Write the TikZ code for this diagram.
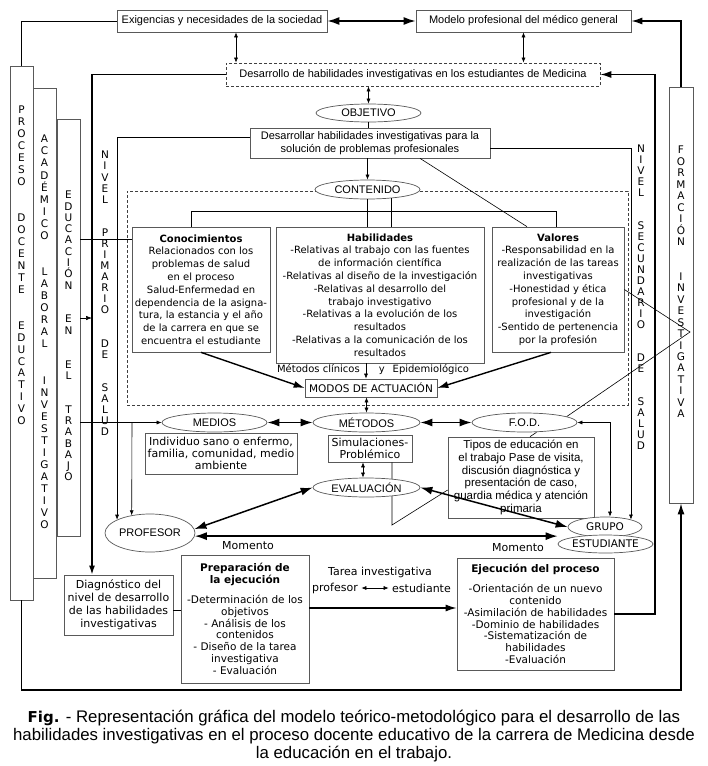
\documentclass[tikz,border=0pt]{standalone}
\usepackage{fontspec}
\setmainfont{DejaVu Sans}
\newfontfamily\narrowfont{Liberation Sans}
\usetikzlibrary{arrows.meta,shapes.geometric}

\tikzset{
   caja/.style={draw=black!65, line width=0.7pt, fill=white, align=center, inner sep=1pt, font=\fontsize{10}{12.8}\selectfont},
   cajag/.style={caja, font=\fontsize{11}{12.3}\selectfont},
   cajan/.style={caja, font=\narrowfont\fontsize{11}{13}\selectfont},
   elipse/.style={ellipse, draw=black!65, line width=0.7pt, fill=white, inner sep=0pt, font=\narrowfont\fontsize{11}{13}\selectfont},
   letras/.style={align=center, anchor=north, inner sep=0pt},
   punteada/.style={draw=black!75, line width=0.7pt, dash pattern=on 3pt off 2pt},
   linea/.style={line width=0.6pt},
   fina/.style={line width=0.6pt, -{Latex[length=5pt,width=4pt]}},
   dfina/.style={line width=0.6pt, {Latex[length=5pt,width=4pt]}-{Latex[length=5pt,width=4pt]}},
   gruesa/.style={line width=1.5pt, {Latex[length=12pt,width=8pt]}-{Latex[length=12pt,width=8pt]}},
   flechag/.style={line width=1.4pt, -{Latex[length=11pt,width=7pt]}},
}

\begin{document}
\begin{tikzpicture}[x=1pt,y=-1pt]

   \fill[white] (0,0) rectangle (708,766);
   \useasboundingbox (0,0) rectangle (708,766);

   \node[cajan, minimum width=210pt, minimum height=22pt] (Exigencias) at (222,21) {Exigencias y necesidades de la sociedad};
   \node[cajan, minimum width=215pt, minimum height=22pt] (Modelo) at (523.5,21) {Modelo profesional del médico general};
   \node[cajan, punteada, minimum width=374pt, minimum height=23pt] (Desarrollo) at (413,74.5) {Desarrollo de habilidades investigativas en los estudiantes de Medicina};
   \node[elipse, minimum width=105pt, minimum height=18pt] (Objetivo) at (368.5,113) {OBJETIVO};
   \node[cajan, minimum width=240pt, minimum height=30pt] (Desarrollar) at (370,143) {Desarrollar habilidades investigativas para la\\solución de problemas profesionales};

   \node[punteada, minimum width=501pt, minimum height=214pt] (Campo) at (377.5,298) {};
   \node[elipse, minimum width=105pt, minimum height=19pt] (Contenido) at (367.5,189.5) {CONTENIDO};

   \node[caja, minimum width=138pt, minimum height=125pt] (Conocimientos) at (201,289.5) {\textbf{Conocimientos}\\Relacionados con los\\problemas de salud\\en el proceso\\Salud-Enfermedad en\\dependencia de la asigna-\\tura, la estancia y el año\\de la carrera en que se\\encuentra el estudiante};
   \node[caja, minimum width=208pt, minimum height=136pt] (Habilidades) at (380,295) {\textbf{Habilidades}\\-Relativas al trabajo con las fuentes\\de información científica\\-Relativas al diseño de la investigación\\-Relativas al desarrollo del\\trabajo investigativo\\-Relativas a la evolución de los\\resultados\\-Relativas a la comunicación de los\\resultados};
   \node[caja, minimum width=132pt, minimum height=125pt] (Valores) at (558,289.5) {\textbf{Valores}\\-Responsabilidad en la\\realización de las tareas\\investigativas\\-Honestidad y ética\\profesional y de la\\investigación\\-Sentido de pertenencia\\por la profesión};

   \node[font=\fontsize{10}{12}\selectfont, inner sep=0pt] (MetClin) at (373,370) {Métodos clínicos\hspace{19pt}y\hspace{8pt}Epidemiológico};
   \node[caja, font=\fontsize{10.5}{12}\selectfont, minimum width=132pt, minimum height=18pt] (Modos) at (371,388) {MODOS DE ACTUACIÓN};

   \node[elipse, minimum width=105pt, minimum height=19pt] (Medios) at (214.5,422.5) {MEDIOS};
   \node[elipse, minimum width=107pt, minimum height=19pt] (Metodos) at (366.5,422.5) {MÉTODOS};
   \node[elipse, minimum width=105pt, minimum height=19pt] (FOD) at (524.5,422.5) {F.O.D.};

   \node[cajag, minimum width=152pt, minimum height=41pt] (MediosTxt) at (221,453.5) {Individuo sano o enfermo,\\familia, comunidad, medio\\ambiente};
   \node[cajag, minimum width=84pt, minimum height=27pt] (Simulaciones) at (370,448.5) {Simulaciones-\\Problémico};
   \node[cajan, font=\narrowfont\fontsize{11.5}{12.9}\selectfont, minimum width=146pt, minimum height=81pt] (Tipos) at (521,477.5) {Tipos de educación en\\el trabajo Pase de visita,\\discusión diagnóstica y\\presentación de caso,\\guardia médica y atención\\primaria};

   \coordinate (Punta) at (392,525);
   \draw[linea] ([xshift=22pt]Simulaciones.south) -- (Punta) -- ([yshift=-12.5pt]Tipos.west);

   \node[elipse, minimum width=107pt, minimum height=19pt] (Evaluacion) at (366.5,487.5) {EVALUACIÓN};
   \node[elipse, minimum width=90pt, minimum height=38pt] (Profesor) at (150,533) {PROFESOR};
   \node[elipse, font=\fontsize{10.5}{12}\selectfont, minimum width=74pt, minimum height=20pt] (Grupo) at (605,527) {GRUPO};
   \node[elipse, font=\fontsize{10.5}{12}\selectfont, minimum width=95pt, minimum height=18pt] (Estudiante) at (605.5,544) {ESTUDIANTE};

   \node[font=\fontsize{11}{13}\selectfont] (Momento1) at (248,546) {Momento};
   \node[font=\fontsize{11}{13}\selectfont] (Momento2) at (518,548) {Momento};

   \node[cajag, font=\fontsize{11}{13}\selectfont, minimum width=109pt, minimum height=60pt] (Diagnostico) at (118.5,605) {Diagnóstico del\\nivel de desarrollo\\de las habilidades\\investigativas};
   \node[caja, font=\fontsize{10.5}{11.8}\selectfont, minimum width=128pt, minimum height=128pt] (Preparacion) at (245,619) {\textbf{Preparación de}\\\textbf{la ejecución}\\[8pt]-Determinación de los\\objetivos\\- Análisis de los\\contenidos\\- Diseño de la tarea\\investigativa\\- Evaluación};
   \node[caja, font=\fontsize{10.5}{11.8}\selectfont, minimum width=157pt, minimum height=112pt] (Ejecucion) at (535.5,614) {\textbf{Ejecución del proceso}\\[8pt]-Orientación de un nuevo\\contenido\\-Asimilación de habilidades\\-Dominio de habilidades\\-Sistematización de\\habilidades\\-Evaluación};

   \node[font=\fontsize{11}{13}\selectfont] (Tarea) at (380,572) {Tarea investigativa};
   \node[font=\fontsize{11}{13}\selectfont] (TProfesor) at (335,588) {profesor};
   \node[font=\fontsize{11}{13}\selectfont] (TEstudiante) at (421.5,588) {estudiante};

   \node[caja, minimum width=23pt, minimum height=534pt] (Proceso) at (21.5,333) {};
   \node[caja, minimum width=23pt, minimum height=490pt] (Academico) at (44.5,333) {};
   \node[caja, minimum width=23pt, minimum height=417pt] (Educacion) at (68.5,327.5) {};
   \node[caja, minimum width=24pt, minimum height=416pt] (Formacion) at (681,295) {};

   \node[letras, font=\fontsize{10.5}{11.96}\selectfont] (tProceso) at (21.5,106) {P\\R\\O\\C\\E\\S\\O\\~\\~\\D\\O\\C\\E\\N\\T\\E\\~\\~\\E\\D\\U\\C\\A\\T\\I\\V\\O};
   \node[letras, font=\fontsize{10.5}{12.06}\selectfont] (tAcademico) at (44.5,135) {A\\C\\A\\D\\É\\M\\I\\C\\O\\~\\~\\L\\A\\B\\O\\R\\A\\L\\~\\~\\I\\N\\V\\E\\S\\T\\I\\G\\A\\T\\I\\V\\O};
   \node[letras, font=\fontsize{10.5}{11.28}\selectfont] (tEducacion) at (68.5,191) {E\\D\\U\\C\\A\\C\\I\\Ó\\N\\~\\~\\E\\N\\~\\~\\E\\L\\~\\~\\T\\R\\A\\B\\A\\J\\O};
   \node[letras, font=\fontsize{10.5}{11.08}\selectfont] (tPrimario) at (105,151) {N\\I\\V\\E\\L\\~\\~\\P\\R\\I\\M\\A\\R\\I\\O\\~\\~\\D\\E\\~\\~\\S\\A\\L\\U\\D};
   \node[letras, font=\fontsize{10.5}{11.0}\selectfont] (tSecundario) at (641,145) {N\\I\\V\\E\\L\\~\\~\\S\\E\\C\\U\\N\\D\\A\\R\\I\\O\\~\\~\\D\\E\\~\\~\\S\\A\\L\\U\\D};
   \node[letras, font=\fontsize{10.5}{11.48}\selectfont] (tFormacion) at (681,146) {F\\O\\R\\M\\A\\C\\I\\Ó\\N\\~\\~\\I\\N\\V\\E\\S\\T\\I\\G\\A\\T\\I\\V\\A};

   \node[align=center, font=\narrowfont\fontsize{16.8}{18}\selectfont] (Leyenda) at (354,736) {{\rmfamily\bfseries\fontsize{15}{18}\selectfont Fig.} - Representación gráfica del modelo teórico-metodológico para el desarrollo de las\\habilidades investigativas en el proceso docente educativo de la carrera de Medicina desde\\la educación en el trabajo.};

   \draw[gruesa] (Exigencias) -- (Modelo);
   \draw[dfina] ([xshift=14pt]Exigencias.south) -- ([xshift=14pt]Exigencias.south |- Desarrollo.north);
   \draw[dfina] (Modelo.south) -- (Modelo.south |- Desarrollo.north);
   \draw[line width=1pt] (Exigencias.west) -| (Proceso.north);
   \draw[flechag] (Formacion.north) |- (Modelo.east);

   \draw[dfina] (Objetivo.north |- Desarrollo.south) -- (Objetivo.north);
   \draw[linea] (Objetivo.south) -- (Objetivo.south |- Desarrollar.north);
   \draw[fina] (Contenido.north |- Desarrollar.south) -- (Contenido.north);
   \draw[linea] (Contenido.south) -- (Contenido.south |- Habilidades.north);
   \draw[linea] (Contenido.-20) -- (Contenido.-20 |- Habilidades.north);
   \draw[linea] ([xshift=-10pt]Conocimientos.north) -- ++(0,-15) -| ([xshift=-2pt]Valores.north);
   \draw[linea] ([xshift=50pt]Desarrollar.south) -- ([xshift=-31pt]Valores.north);

   \draw[line width=1.5pt, -{Latex[length=9pt,width=6pt]}] (Desarrollo.west) -| (Diagnostico.north -| 92,0);
   \coordinate (Enlace) at (92,318);
   \draw[line width=0.6pt, -{Latex[length=6pt,width=4.5pt]}] (Educacion.east |- Enlace) -- (Enlace);
   \draw[linea] (Educacion.east |- 0,239) -- (Conocimientos.west |- 0,239);
   \draw[fina] (Desarrollar.west |- 0,137) -| (Profesor.158);
   \draw[fina] (Educacion.east |- Medios.west) -- (Medios.west);
   \draw[fina] (Medios.west -| 132,0) -- (Profesor.136);

   \draw[fina] (Desarrollar.east |- 0,148) -| (Grupo.16);
   \draw[flechag] (Ejecucion.east) -| (Desarrollo.east -| 655,0) -- (Desarrollo.east);
   \draw[flechag] (Proceso.south) |- (0,690 -| Formacion.south) -- (Formacion.south);
   \coordinate (Vertice) at (690,332);
   \draw[linea] (Valores.east) -- (Vertice) -- (FOD.8);

   \draw[flechag] (Conocimientos.south) -- (Modos.west);
   \draw[flechag] ([xshift=-7pt]Valores.south) -- (Modos.east);
   \draw[fina] ([xshift=-14pt]Habilidades.south) -- ([xshift=-14pt]Habilidades.south |- Modos.north);
   \draw[dfina] (Metodos.north |- Modos.south) -- (Metodos.north);
   \draw[gruesa] (Medios) -- (Metodos);
   \draw[gruesa] (Metodos) -- (FOD);
   \draw[dfina] ([xshift=-7pt]Simulaciones.south) -- ([xshift=-7pt]Simulaciones.south |- Evaluacion.north);
   \draw[linea] ([xshift=12pt]FOD.south) -- ([xshift=9pt]Tipos.north);
   \draw[dfina] (FOD.east) -| ([xshift=5pt]Grupo.north);
   \draw[gruesa] (Profesor.5) -- (Evaluacion.west);
   \draw[gruesa] (Profesor.-4) -- (Profesor.-4 -| Estudiante.west);
   \draw[gruesa] (Evaluacion.east) -- (Grupo.west);

   \draw[linea] (Diagnostico.east |- 0,610) -- (Preparacion.west |- 0,610);
   \draw[flechag] (Preparacion.east |- 0,608) -- (Ejecucion.west |- 0,608);
   \draw[dfina] (TProfesor) -- (TEstudiante);

\end{tikzpicture}
\end{document}
